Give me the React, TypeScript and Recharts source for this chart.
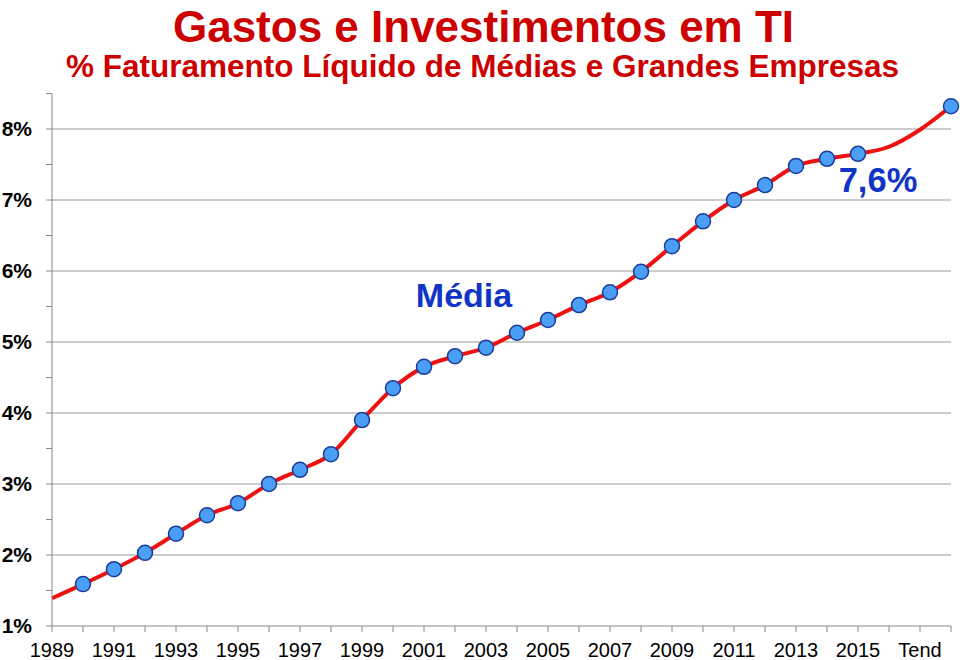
import { LineChart, Line, XAxis, YAxis, ReferenceLine } from 'recharts';

const years = [
  '1989', '1990', '1991', '1992', '1993', '1994', '1995', '1996', '1997', '1998',
  '1999', '2000', '2001', '2002', '2003', '2004', '2005', '2006', '2007', '2008',
  '2009', '2010', '2011', '2012', '2013', '2014', '2015', '2016', '2017', '2018',
];

// % do faturamento liquido
const media = [
  1.39, 1.59, 1.8, 2.03, 2.3, 2.56, 2.73, 3.0, 3.2, 3.42,
  3.9, 4.35, 4.65, 4.8, 4.92, 5.13, 5.31, 5.52, 5.7, 5.99,
  6.35, 6.7, 7.0, 7.21, 7.48, 7.58, 7.65, 7.75, 7.99, 8.32,
];

const tickLabels = [
  '1989', '', '1991', '', '1993', '', '1995', '', '1997', '',
  '1999', '', '2001', '', '2003', '', '2005', '', '2007', '',
  '2009', '', '2011', '', '2013', '', '2015', '', 'Tend', '',
];

// anos sem marcador (inicio e trecho da tendencia)
const noMarker = ['1989', '2016', '2017'];

const yTicks = [1, 1.5, 2, 2.5, 3, 3.5, 4, 4.5, 5, 5.5, 6, 6.5, 7, 7.5, 8, 8.5];
const gridValues = [2, 3, 4, 5, 6, 7, 8];

const data = years.map((year, i) => ({ year, value: media[i] }));

const font = 'Arial, "Liberation Sans", Helvetica, sans-serif';

export default function App() {
  const renderDot = (props: any) => {
    const { cx, cy, index, payload } = props;
    if (noMarker.includes(payload.year)) {
      return <g key={`dot-${index}`} />;
    }
    return (
      <circle
        key={`dot-${index}`}
        cx={cx}
        cy={cy}
        r={7.5}
        fill="#4a9ff5"
        stroke="#1c3c9c"
        strokeWidth={1.5}
      />
    );
  };

  return (
    <div style={{ position: 'absolute', left: 0, top: 0, width: 960, height: 660, background: '#fff', fontFamily: font }}>
      <div
        style={{
          position: 'absolute', left: 0, width: 967, top: 2, textAlign: 'center',
          color: '#cc0000', fontWeight: 'bold', fontSize: 44, lineHeight: '49px',
        }}
      >
        Gastos e Investimentos em TI
      </div>
      <div
        style={{
          position: 'absolute', left: 0, width: 965, top: 51, textAlign: 'center',
          color: '#cc0000', fontWeight: 'bold', fontSize: 31.5, lineHeight: '31.5px',
        }}
      >
        % Faturamento Líquido de Médias e Grandes Empresas
      </div>
      <LineChart
        width={960}
        height={660}
        data={data}
        margin={{ top: 93.5, right: 9, bottom: 0, left: 0 }}
        style={{ position: 'absolute', left: 0, top: 0 }}
      >
        {gridValues.map((v) => (
          <ReferenceLine key={v} y={v} stroke="#9a9a9a" strokeWidth={1} />
        ))}
        <XAxis
          dataKey="year"
          interval={0}
          height={34}
          stroke="#888"
          tickSize={6}
          tickMargin={11}
          tickFormatter={(v: string) => tickLabels[years.indexOf(v)]}
          tick={{ fill: '#000', fontSize: 20, fontFamily: font }}
        />
        <YAxis
          domain={[1, 8.5]}
          ticks={yTicks}
          interval={0}
          width={52}
          stroke="#888"
          tickSize={6}
          tickMargin={14}
          tickFormatter={(v: number) => (Number.isInteger(v) ? `${v}%` : '')}
          tick={{ fill: '#000', fontSize: 21, fontWeight: 'bold', fontFamily: font }}
        />
        <Line
          type="monotone"
          dataKey="value"
          stroke="#ee1111"
          strokeWidth={4}
          dot={renderDot}
          activeDot={false}
          isAnimationActive={false}
        />
      </LineChart>
      <div
        style={{
          position: 'absolute', left: 364, width: 200, top: 278, textAlign: 'center',
          color: '#1035c4', fontWeight: 'bold', fontSize: 34, lineHeight: '34px',
        }}
      >
        Média
      </div>
      <div
        style={{
          position: 'absolute', left: 778, width: 200, top: 163, textAlign: 'center',
          color: '#1035c4', fontWeight: 'bold', fontSize: 34.5, lineHeight: '34.5px',
        }}
      >
        7,6%
      </div>
    </div>
  );
}
